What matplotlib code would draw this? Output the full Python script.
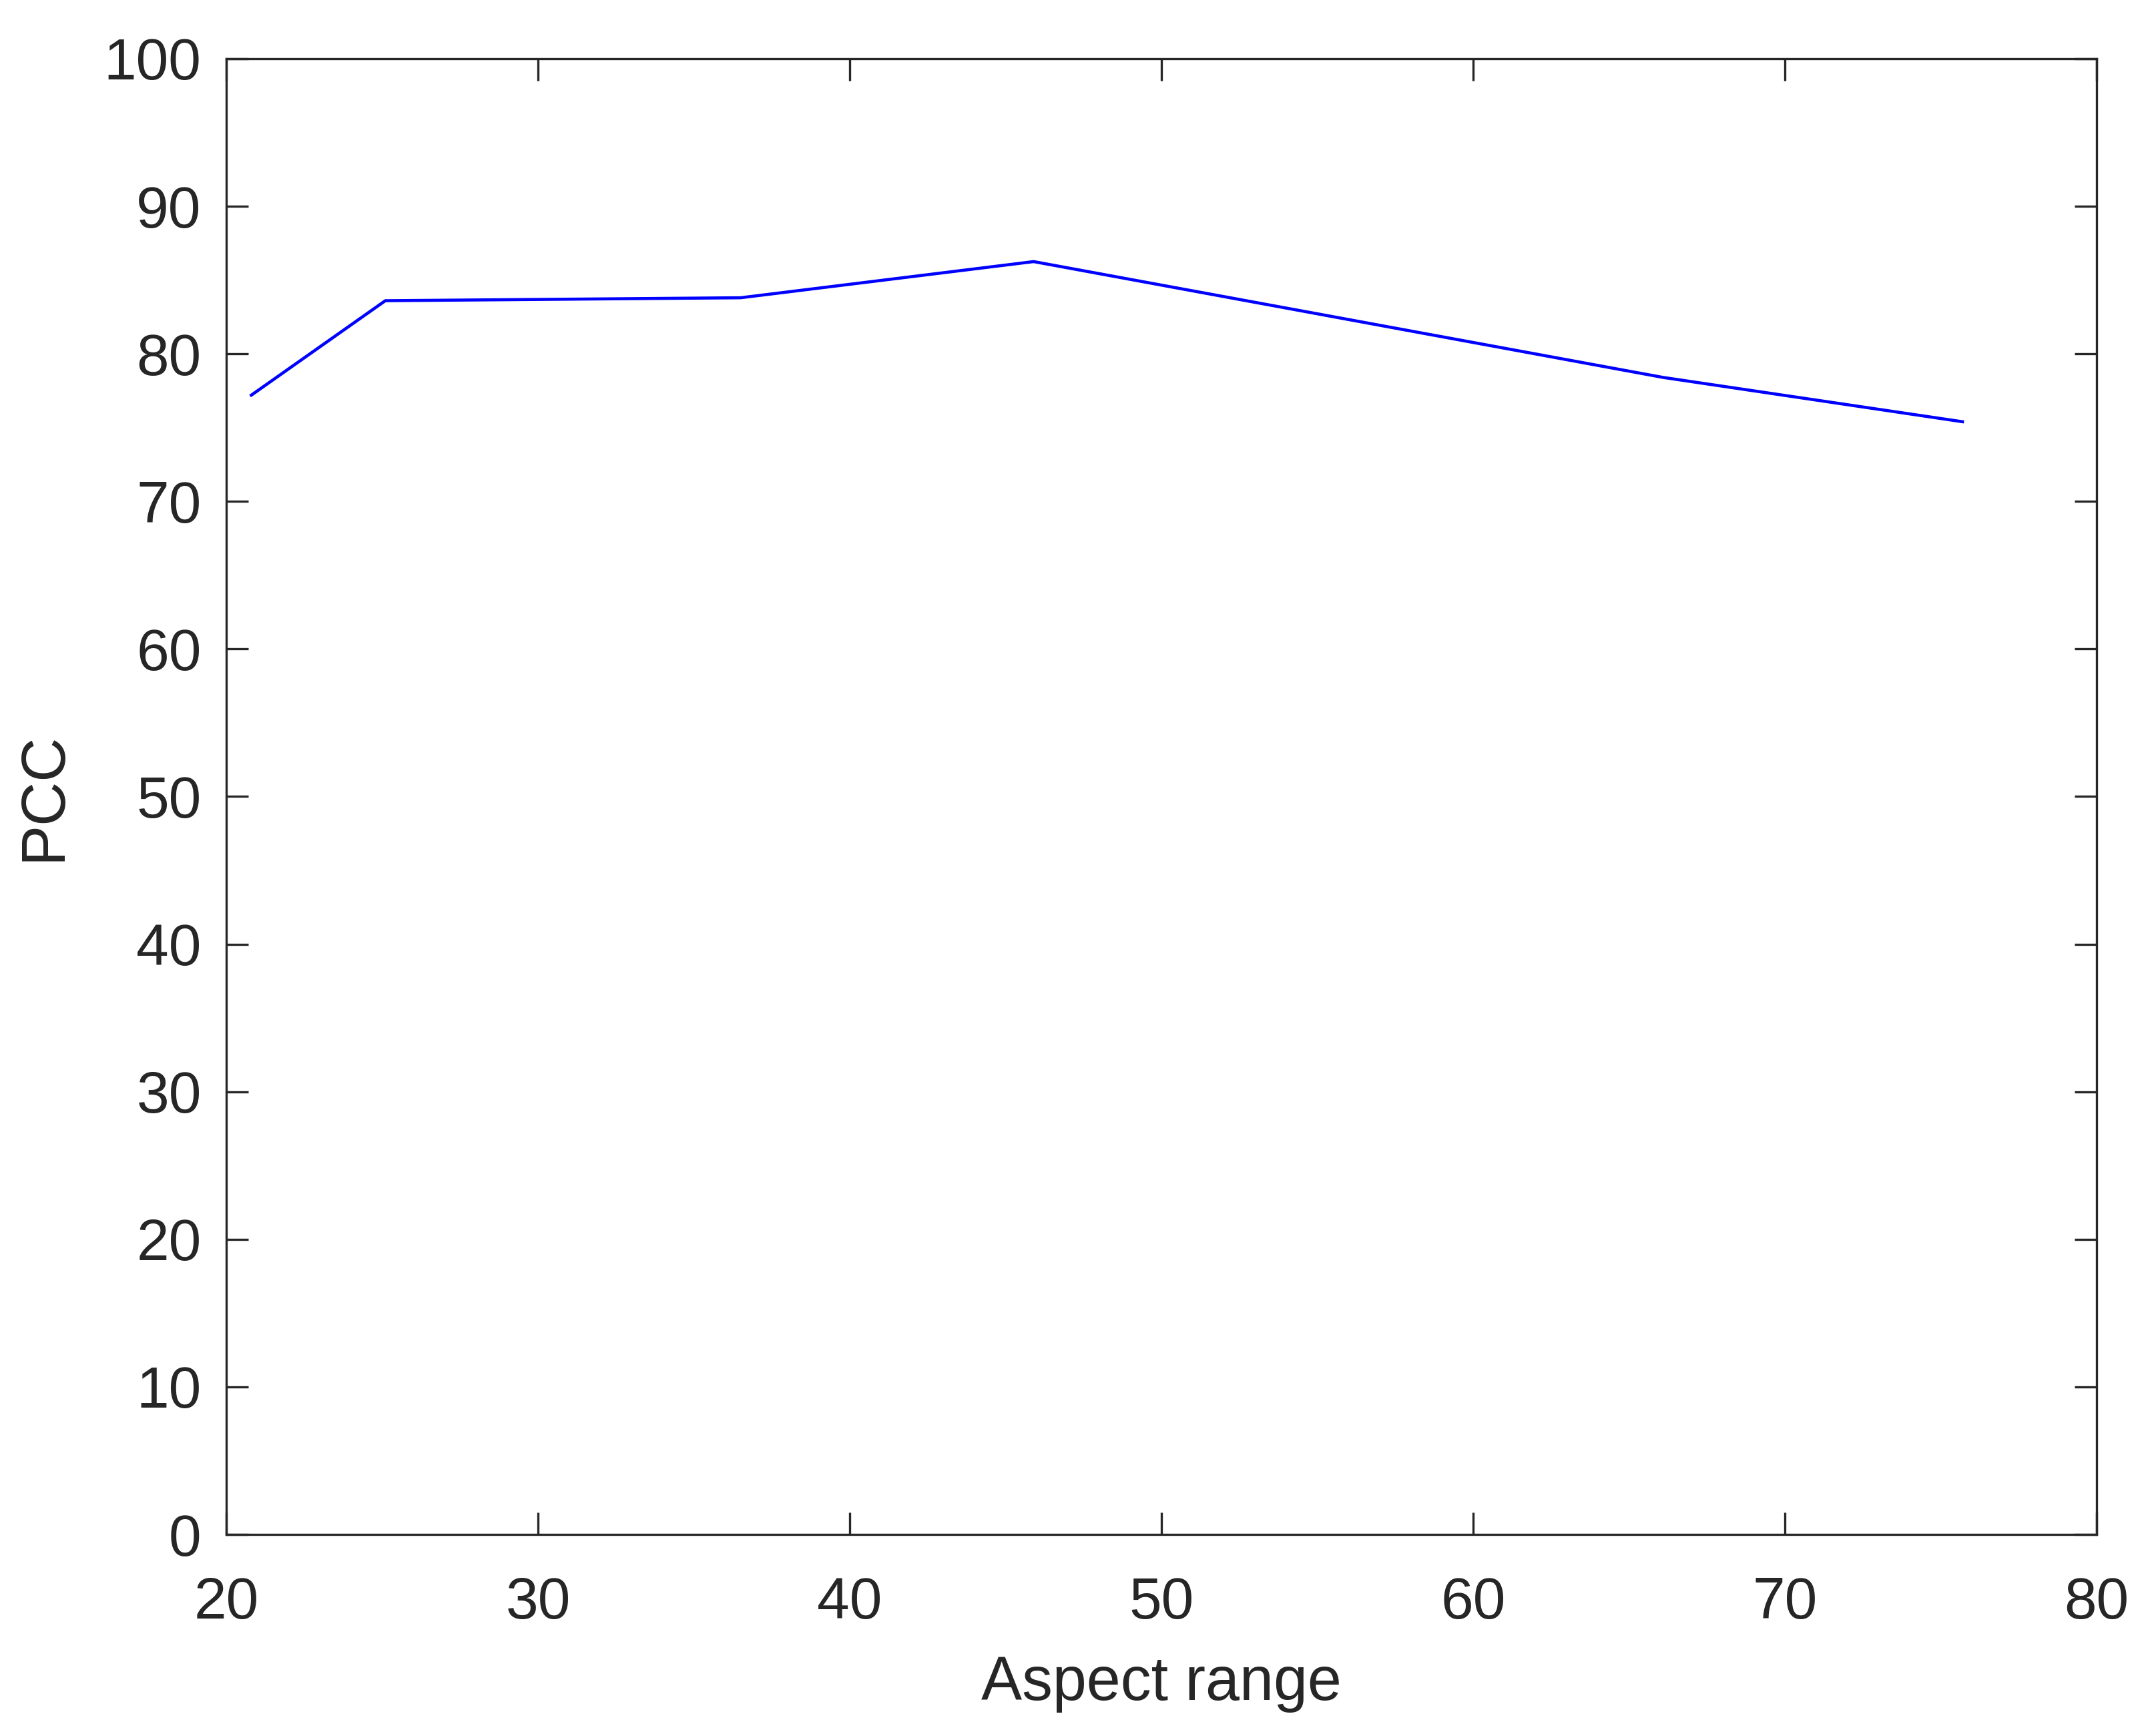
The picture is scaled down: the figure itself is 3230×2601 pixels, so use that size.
import matplotlib
matplotlib.use('Agg')
import matplotlib.pyplot as plt

# values
aspect_range = [20.8, 25.1, 36.5, 45.9, 66.1, 75.7]
pcc = [77.2, 83.6, 83.8, 86.25, 78.4, 75.4]
xticks = [20, 30, 40, 50, 60, 70, 80]
yticks = [0, 10, 20, 30, 40, 50, 60, 70, 80, 90, 100]

dark = '#262626'
plt.rcParams['font.family'] = ['Liberation Sans', 'DejaVu Sans']

fig = plt.figure(figsize=(3230 / 300, 2601 / 300), dpi=300)
ax = fig.add_axes([0.105, 0.1161, 0.8674, 0.8501])

ax.plot(aspect_range, pcc, color='#0000ff', linewidth=1.1)

ax.set_xlim(20, 80)
ax.set_ylim(0, 100)
ax.set_xticks(xticks)
ax.set_yticks(yticks)
ax.tick_params(direction='in', length=8, width=0.8, colors=dark,
               labelsize=21, top=True, right=True, pad=9)
ax.tick_params(axis='x', pad=15)
for sp in ax.spines.values():
    sp.set_color(dark)
    sp.set_linewidth(0.8)

ax.set_xlabel('Aspect range', fontsize=22, color=dark, labelpad=9)
ax.set_ylabel('PCC', fontsize=22, color=dark, labelpad=11)

fig.savefig('out.png', dpi=300)
